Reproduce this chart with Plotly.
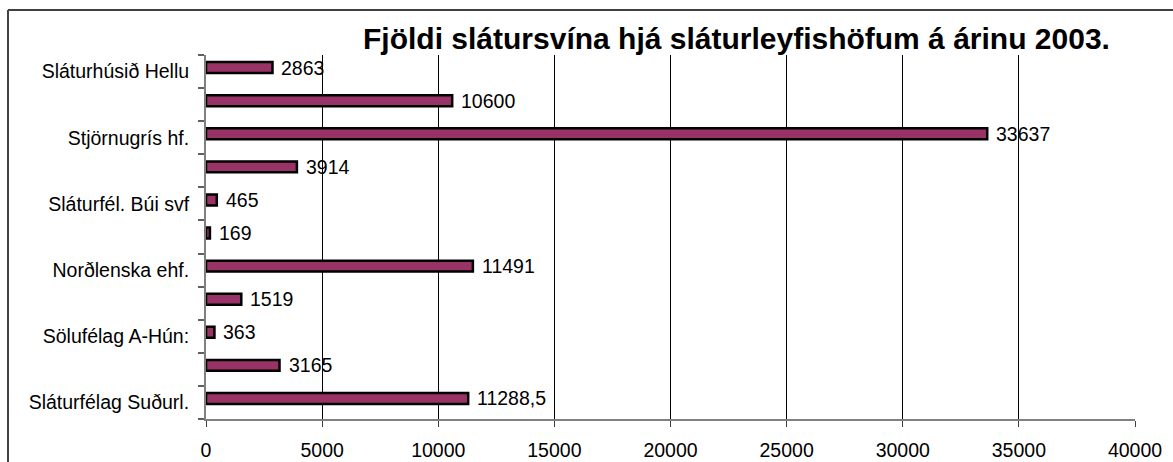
import plotly.graph_objects as go

# Data (bottom to top, as drawn)
labels = ["Sláturfélag Suðurl.", "", "Sölufélag A-Hún:", "", "Norðlenska ehf.", "",
          "Sláturfél. Búi svf", "", "Stjörnugrís hf.", "", "Sláturhúsið Hellu"]
values = [11288.5, 3165, 363, 1519, 11491, 169, 465, 3914, 33637, 10600, 2863]
x_ticks = [0, 5000, 10000, 15000, 20000, 25000, 30000, 35000, 40000]
title = "Fjöldi slátursvína hjá sláturleyfishöfum á árinu 2003."

W, H = 1173, 462
L, R, T, B = 206, 38, 55, 43
pw, ph = W - L - R, H - T - B

positions = list(range(len(values)))


def fmt(v):
    s = ("%g" % v)
    return s.replace(".", ",")


FONT = "Liberation Sans, Arial, sans-serif"
FS = 19.5
BAR_W = 0.33
BAR_SHIFT = 0.12  # bars sit slightly above the category centre, as in the original

fig = go.Figure()
fig.add_trace(go.Bar(
    x=values, y=positions, orientation="h",
    width=BAR_W, offset=-BAR_W / 2 + BAR_SHIFT,
    marker=dict(color="#993366", line=dict(color="#000000", width=2.5)),
    hoverinfo="x",
))

for v, p in zip(values, positions):
    fig.add_annotation(x=v, y=p + BAR_SHIFT, xref="x", yref="y", text=fmt(v), showarrow=False,
                       xanchor="left", yanchor="middle", xshift=7,
                       font=dict(family=FONT, size=FS, color="#000000"))

fig.add_annotation(x=(736.5 - L) / pw, y=(H - B - 39) / ph, xref="paper", yref="paper",
                   text="<b>%s</b>" % title, showarrow=False, xanchor="center", yanchor="middle",
                   font=dict(family=FONT, size=30, color="#000000"))

# outer chart frame (left and top edges visible)
fx = (8 - L) / pw
fy = (H - B - 10) / ph
fig.add_shape(type="line", xref="paper", yref="paper", x0=fx, x1=fx, y0=-0.3, y1=fy,
              line=dict(color="#404040", width=2))
fig.add_shape(type="line", xref="paper", yref="paper", x0=fx, x1=1.2, y0=fy, y1=fy,
              line=dict(color="#404040", width=2))

fig.update_layout(
    width=W, height=H,
    margin=dict(l=L, r=R, t=T, b=B, pad=0),
    paper_bgcolor="#ffffff", plot_bgcolor="#ffffff",
    showlegend=False,
    font=dict(family=FONT, size=FS, color="#000000"),
)
fig.update_xaxes(
    range=[0, 40000], tickmode="array", tickvals=x_ticks,
    ticktext=[str(t) for t in x_ticks],
    showgrid=True, gridcolor="#000000", gridwidth=1,
    showline=True, linecolor="#808080", linewidth=2,
    ticks="outside", ticklen=6, tickcolor="#404040", tickwidth=1,
    zeroline=False, ticklabelstandoff=7, automargin=False,
    tickfont=dict(family=FONT, size=FS, color="#000000"),
)
fig.update_yaxes(
    range=[-0.5, len(values) - 0.5], tickmode="array", tickvals=positions, ticktext=labels,
    showgrid=False, zeroline=False, automargin=False,
    showline=True, linecolor="#808080", linewidth=2,
    ticks="", ticklabelstandoff=11,
    minor=dict(tickmode="array", tickvals=[p - 0.5 for p in positions] + [positions[-1] + 0.5],
               ticks="outside", ticklen=6, tickcolor="#606060", tickwidth=1.5, showgrid=False),
    tickfont=dict(family=FONT, size=FS, color="#000000"),
)

fig.write_html("out.html", config={"displayModeBar": False},
               post_script="document.body.style.margin='0';document.body.style.overflow='hidden';")
